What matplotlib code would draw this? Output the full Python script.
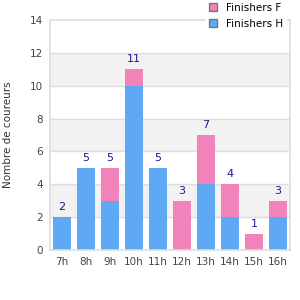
import matplotlib.pyplot as plt
import numpy as np

heures = ['7h', '8h', '9h', '10h', '11h', '12h', '13h', '14h', '15h', '16h']
finishers_h = [2, 5, 3, 10, 5, 0, 4, 2, 0, 2]
finishers_f = [0, 0, 2, 1, 0, 3, 3, 2, 1, 1]

blue = '#5EA8F4'
pink = '#F282BA'
grid_col = '#DDDDDD'

fig = plt.figure(figsize=(3, 3), dpi=100)
ax = fig.add_axes([50 / 300, 50 / 300, 240 / 300, 230 / 300])

x = np.arange(len(heures))
totals = np.array(finishers_h) + np.array(finishers_f)

# alternating bands
for y0 in range(2, 14, 4):
    ax.axhspan(y0, y0 + 2, color='#F2F2F2', zorder=0, lw=0)
for y in range(2, 14, 2):
    ax.axhline(y, color=grid_col, lw=1, zorder=1)

ax.bar(x, finishers_h, width=0.75, color=blue, zorder=2, label='Finishers H')
ax.bar(x, finishers_f, width=0.75, bottom=finishers_h, color=pink, zorder=2, label='Finishers F')

for xi, t in zip(x, totals):
    ax.text(xi, t + 0.3, str(t), ha='center', va='bottom', fontsize=8, color='#1A1A8C')

ax.set_xlim(-0.5, len(heures) - 0.5)
ax.set_ylim(0, 14)
ax.set_yticks(range(0, 15, 2))
ax.set_xticks(x)
ax.set_xticklabels(heures)
ax.tick_params(length=0, labelsize=7.5, labelcolor='#444444', pad=5)
for s in ax.spines.values():
    s.set_color(grid_col)
    s.set_linewidth(1.2)
ax.set_ylabel('Nombre de coureurs', fontsize=7.5, color='#333333', labelpad=12)

handles, labels = ax.get_legend_handles_labels()
leg = fig.legend(handles[::-1], labels[::-1], loc='upper left', bbox_to_anchor=(206 / 300, 1.0),
                 fontsize=7.5, frameon=True, fancybox=False, handlelength=0.8, handleheight=0.8,
                 handletextpad=0.9, labelspacing=0.6, borderpad=0.25, borderaxespad=0)
leg.get_frame().set_edgecolor('white')
leg.get_frame().set_facecolor('white')
leg.get_frame().set_alpha(1)
for p in leg.get_patches():
    p.set_edgecolor('#777777')
    p.set_linewidth(1)
leg.set_zorder(5)

fig.savefig('out.png', dpi=100)
